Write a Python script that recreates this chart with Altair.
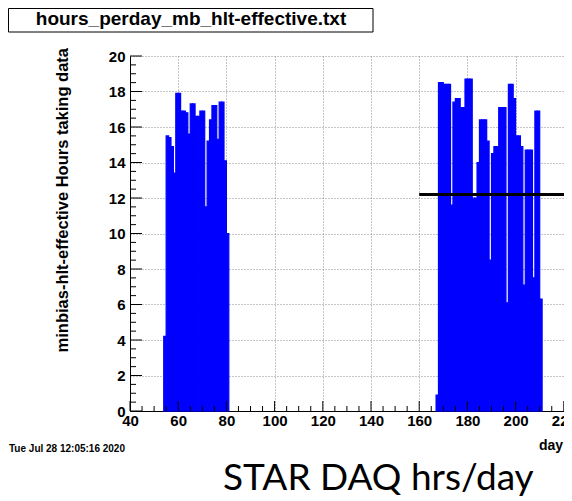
import altair as alt
import pandas as pd

# ---------------- data ----------------
days_run1 = list(range(54, 81))
hours_run1 = [4.2, 15.5, 15.4, 14.9, 13.4, 17.9, 17.9, 16.9, 16.9, 16.8,
              15.6, 17.3, 17.3, 16.6, 16.6, 16.9, 16.9, 11.5, 15.2, 16.4,
              17.2, 17.2, 15.3, 17.4, 17.4, 14.1, 10.0]

days_run2 = list(range(167, 211))
hours_run2 = [0.9, 18.5, 18.5, 18.4, 18.4, 18.4, 11.6, 17.4, 17.6, 17.6,
              17.1, 17.1, 18.7, 18.7, 18.7, 12.0, 12.0, 14.0, 16.4, 16.4,
              16.4, 15.2, 8.5, 14.5, 14.9, 14.9, 17.1, 17.1, 17.1, 6.1,
              18.4, 18.4, 17.6, 15.5, 15.5, 14.9, 7.1, 14.7, 14.7, 14.7,
              7.5, 16.9, 16.9, 6.3]

level_start = [160]
level_end = [230]
level_value = [12.2]

x_major = [40, 60, 80, 100, 120, 140, 160, 180, 200, 220]
x_minor = [v for v in range(40, 221, 5) if v % 20 != 0]
y_major = [0, 2, 4, 6, 8, 10, 12, 14, 16, 18, 20]
y_minor = [v / 2 for v in range(0, 41) if v % 4 != 0]

title_text = ["hours_perday_mb_hlt-effective.txt"]
ytitle_text = ["minbias-hlt-effective Hours taking data"]
xtitle_text = ["day"]
date_text = ["Tue Jul 28 12:05:16 2020"]
slide_text = ["STAR DAQ hrs/day"]

# ---------------- tables ----------------
bars = pd.DataFrame({"day": days_run1 + days_run2,
                     "hours": hours_run1 + hours_run2})
bars["day_end"] = bars["day"] + 1
level = pd.DataFrame({"start": level_start, "end": level_end, "level": level_value})

W, H = 434, 355
FONT = "Liberation Sans"

xs = alt.Scale(domain=[40, 220.08], nice=False, zero=False)
ys = alt.Scale(domain=[0, 20], nice=False, zero=False)

x_axis = alt.Axis(values=x_major, grid=True, gridDash=[1, 2], gridColor="#8a8a8a",
                  gridWidth=1, ticks=False, domainColor="black", domainWidth=1,
                  labelFont=FONT, labelFontSize=15, labelFontWeight="bold",
                  labelColor="black", labelPadding=2, labelFlush=False,
                  labelOverlap=False, title=None)
y_axis = alt.Axis(values=y_major, grid=True, gridDash=[1, 2], gridColor="#8a8a8a",
                  gridWidth=1, ticks=False, domainColor="black", domainWidth=1,
                  labelFont=FONT, labelFontSize=15, labelFontWeight="bold",
                  labelColor="black", labelPadding=5, labelOverlap=False, title=None)

bar_layer = alt.Chart(bars).mark_rect(fill="#0000ff", stroke="#0000ff",
                                      strokeWidth=1.2).encode(
    x=alt.X("day:Q", scale=xs, axis=x_axis),
    x2="day_end:Q",
    y=alt.Y("hours:Q", scale=ys, axis=y_axis),
    y2=alt.datum(0),
)

ymaj = alt.Chart(pd.DataFrame({"v": y_major})).mark_rule(color="black").encode(
    y=alt.Y("v:Q", scale=ys, axis=y_axis), x=alt.value(0), x2=alt.value(12))
ymin = alt.Chart(pd.DataFrame({"v": y_minor})).mark_rule(color="black").encode(
    y=alt.Y("v:Q", scale=ys, axis=y_axis), x=alt.value(0), x2=alt.value(6))
xmaj = alt.Chart(pd.DataFrame({"v": x_major})).mark_rule(color="black").encode(
    x=alt.X("v:Q", scale=xs, axis=x_axis), y=alt.value(H), y2=alt.value(H - 10))
xmin = alt.Chart(pd.DataFrame({"v": x_minor})).mark_rule(color="black").encode(
    x=alt.X("v:Q", scale=xs, axis=x_axis), y=alt.value(H), y2=alt.value(H - 5))

level_layer = alt.Chart(level).mark_rule(color="black", strokeWidth=3, clip=True).encode(
    x=alt.X("start:Q", scale=xs, axis=x_axis), x2="end:Q",
    y=alt.Y("level:Q", scale=ys, axis=y_axis))

title_box = alt.Chart(pd.DataFrame({"t": title_text})).mark_rect(
    fill="white", stroke="black", strokeWidth=1).encode(
    x=alt.value(-121.5), x2=alt.value(243), y=alt.value(-47.5), y2=alt.value(-24))
title_lbl = alt.Chart(pd.DataFrame({"t": title_text})).mark_text(
    font=FONT, fontSize=19, fontWeight="bold", color="black", align="center",
    baseline="alphabetic").encode(text="t:N", x=alt.value(61), y=alt.value(-31))

ytitle = alt.Chart(pd.DataFrame({"t": ytitle_text})).mark_text(
    font=FONT, fontSize=16.5, fontWeight="bold", color="black", align="right",
    baseline="middle", angle=270).encode(text="t:N", x=alt.value(-67), y=alt.value(-8))

xtitle = alt.Chart(pd.DataFrame({"t": xtitle_text})).mark_text(
    font=FONT, fontSize=14, fontWeight="bold", color="black", align="left",
    baseline="alphabetic").encode(text="t:N", x=alt.value(409), y=alt.value(394))

date_lbl = alt.Chart(pd.DataFrame({"t": date_text})).mark_text(
    font=FONT, fontSize=10, fontWeight="bold", color="black", align="left",
    baseline="alphabetic").encode(text="t:N", x=alt.value(-121), y=alt.value(396))

slide_lbl = alt.Chart(pd.DataFrame({"t": slide_text})).mark_text(
    font="Lato", fontSize=37, fontWeight="normal", color="black", align="left",
    baseline="alphabetic").encode(text="t:N", x=alt.value(93), y=alt.value(434))

chart = alt.layer(
    bar_layer, ymaj, ymin, xmaj, xmin, level_layer,
    title_box, title_lbl, ytitle, xtitle, date_lbl, slide_lbl,
).properties(
    width=W, height=H,
    padding={"left": 122, "top": 48, "right": 0, "bottom": 90},
    autosize=alt.AutoSizeParams(type="none"),
    background="white",
).configure_view(stroke=None)

chart.save("out.html", embed_options={"renderer": "svg", "actions": False})
